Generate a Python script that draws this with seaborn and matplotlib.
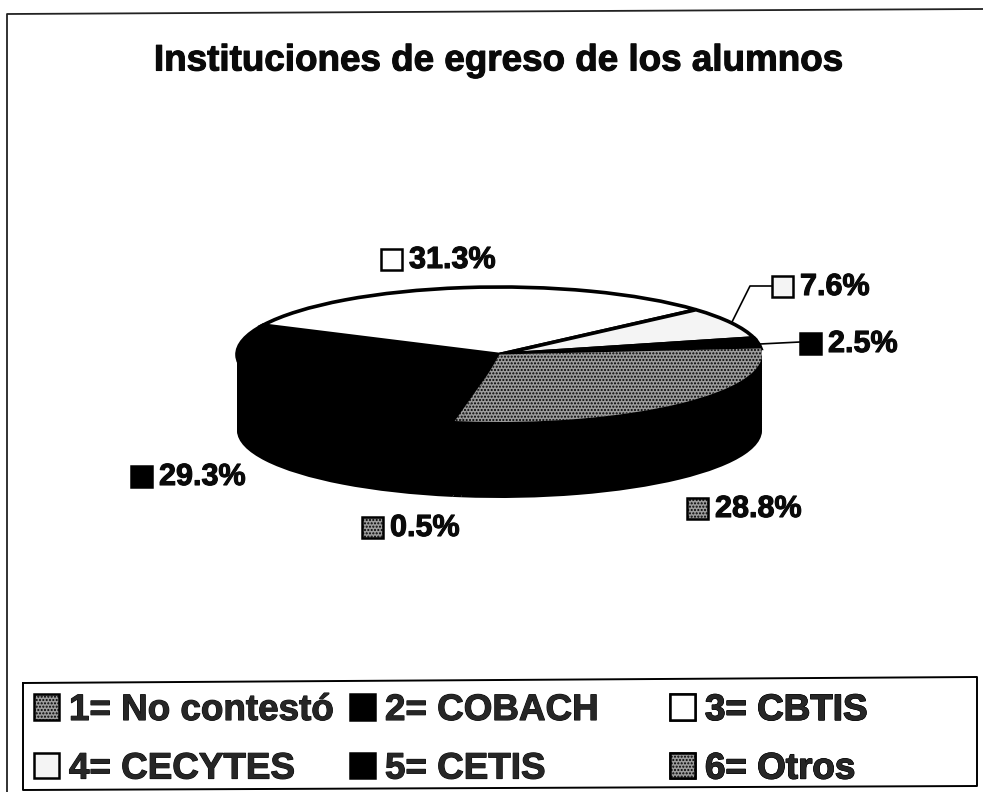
"""Pie chart of the institutions students graduated from (3D look, scanned style)."""
import matplotlib

matplotlib.use("Agg")
import matplotlib.pyplot as plt
from matplotlib.patches import Patch, Rectangle
from matplotlib import patheffects as pe
import seaborn as sns

sns.set_theme(style="white")
plt.rcParams["font.family"] = ["Liberation Sans", "DejaVu Sans"]
plt.rcParams["font.weight"] = "bold"
plt.rcParams["hatch.linewidth"] = 1.0

TITLE = "Instituciones de egreso de los alumnos"
categories = ["1= No contestó", "2= COBACH", "3= CBTIS", "4= CECYTES", "5= CETIS", "6= Otros"]
shares = [0.5, 29.3, 31.3, 7.6, 2.5, 28.8]
share_labels = ["0.5%", "29.3%", "31.3%", "7.6%", "2.5%", "28.8%"]

W, H = 983, 792
INK = "#0a0a0a"
GREY = "#9c9c9c"
fills = [GREY, "black", "white", "#f4f4f4", "black", GREY]
hatches = [".....", None, None, None, None, "....."]
# pixel position of each percent label's square marker
label_xy = [(372, 527), (141, 476), (391, 259), (782, 286), (810, 343), (697, 508)]
# scanned text looks heavier than the plain bold face
HEAVY = [pe.withStroke(linewidth=0.8, foreground=INK)]

fig = plt.figure(figsize=(W / 100, H / 100), dpi=100)

# overlay in pixel coordinates for frame, labels and leader lines
over = fig.add_axes([0, 0, 1, 1], zorder=1)
over.set_xlim(0, W)
over.set_ylim(H, 0)
over.axis("off")
over.patch.set_alpha(0)
over.plot([7, 7, 983], [792, 14, 9], color="#222222", lw=1.3)
over.text(498, 61, TITLE, ha="center", va="center", fontsize=26.5, color=INK, path_effects=HEAVY)

for lab, fc, ht, (px, py) in zip(share_labels, fills, hatches, label_xy):
    over.add_patch(Rectangle((px - 10, py - 10), 21, 21, fc=fc, ec="black", lw=1.8, hatch=ht))
    over.text(px + 18, py + 1, lab, ha="left", va="center", fontsize=22, color=INK,
              path_effects=HEAVY)

over.plot([732, 750, 772], [322, 286, 286], color="black", lw=1.2)
over.plot([760, 800], [344, 342], color="black", lw=1.2)

# pie axes: x spans the ellipse width, y is squashed and extended for the side wall
rx, ry = 262.5, 67.5
cx, cy = 499.5, 354.5
depth = 76 / ry
pie_ax = fig.add_axes([(cx - rx) / W, (H - cy - ry - depth * ry) / H,
                       2 * rx / W, (2 * ry + depth * ry) / H], zorder=0)
for i in range(41):
    d = depth * i / 40
    pie_ax.pie(shares, colors=["black"] * len(shares), startangle=261.5, counterclock=False,
               center=(0, -d), radius=1, wedgeprops={"linewidth": 0})
wedges, _ = pie_ax.pie(shares, colors=fills, startangle=261.5, counterclock=False,
                       wedgeprops={"linewidth": 2.6, "edgecolor": "black"})
for w, ht in zip(wedges, hatches):
    if ht:
        w.set_hatch(ht)
        w.set_linewidth(0)
pie_ax.set_aspect("auto")
pie_ax.set_xlim(-1, 1)
pie_ax.set_ylim(-1 - depth, 1)
pie_ax.axis("off")

# legend box, slightly skewed as on the scan
over.plot([23, 977, 977, 23, 23], [683, 677, 786, 790, 683], color="black", lw=1.4)

# one legend per column, the three columns are not evenly spaced
for j, x0 in enumerate([34, 350, 670]):
    handles = [Patch(fc=fills[i], ec="black", lw=1.8, hatch=hatches[i], label=categories[i])
               for i in (j, j + 3)]
    leg = over.legend(handles=handles, loc="upper left",
                      bbox_to_anchor=(x0 / W, 1 - 693 / H), bbox_transform=fig.transFigure,
                      fontsize=26.5, frameon=False, borderaxespad=0, borderpad=0,
                      handlelength=0.68, handleheight=0.68, handletextpad=0.27,
                      labelspacing=0.64)
    for t in leg.get_texts():
        t.set_path_effects(HEAVY)
    over.add_artist(leg)

fig.savefig("out.png", dpi=100)
